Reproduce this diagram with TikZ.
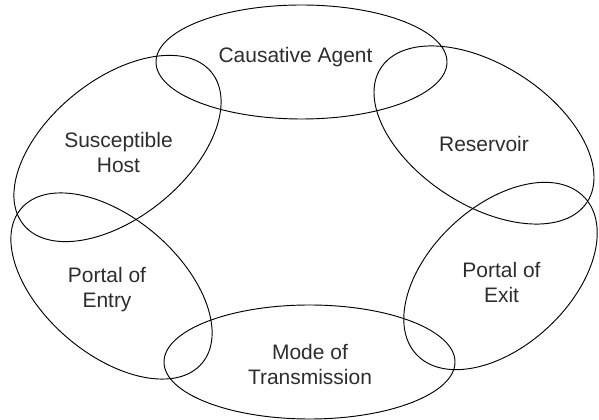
\documentclass[tikz,border=0pt]{standalone}
\usepackage{fontspec}
\setmainfont{Liberation Sans}
\definecolor{labelgray}{RGB}{45,45,45}
\tikzset{
	ring/.style={line width=0.8pt,black},
	lbl/.style={text=labelgray,align=center,inner sep=0pt,font=\fontsize{17.9}{21.3}\selectfont}
}
\begin{document}
\begin{tikzpicture}[x=0.3mm,y=0.3mm]
		\useasboundingbox (0,0) rectangle (599,420);
		
		\draw[ring](301.5,358) ellipse [x radius=145.5, y radius=57];
		\node[lbl] (agent) at (295.5,362.5){Causative Agent};
		
		\draw[ring][rotate around={-33:(484,285)}](484,285) ellipse [x radius=123, y radius=70];
		\node[lbl] (reservoir) at (484,275.5){Reservoir};
		
		\draw[ring][rotate around={43:(500.5,144)}](500.5,144) ellipse [x radius=115, y radius=70];
		\node[lbl] (exit) at (501.5,137.7){Portal of\\Exit};
		
		\draw[ring](309.5,58) ellipse [x radius=145.5, y radius=57];
		\node[lbl] (mode) at (310,55.2){Mode of\\Transmission};
		
		\draw[ring][rotate around={-40.6:(111.5,134)}](111.5,134) ellipse [x radius=119, y radius=68];
		\node[lbl] (entry) at (107,130){Portal of\\Entry};
		
		\draw[ring][rotate around={39:(117.5,271.5)}](117.5,271.5) ellipse [x radius=121, y radius=69];
		\node[lbl] (host) at (118.5,267.2){Susceptible\\Host};
\end{tikzpicture}
\end{document}
